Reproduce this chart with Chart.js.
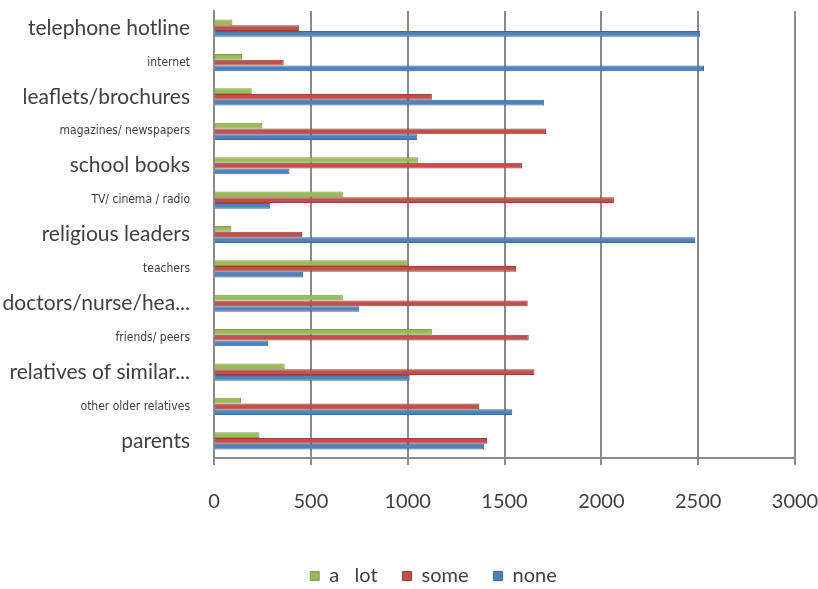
<!DOCTYPE html>
<html>
<head>
<meta charset="utf-8">
<script src="https://cdn.jsdelivr.net/npm/chart.js@4"></script>
<style>
  html, body { margin: 0; padding: 0; background: #ffffff; }
  #wrap { width: 818px; height: 589px; }
</style>
</head>
<body>
<div id="wrap"><canvas id="chart" width="818" height="589"></canvas></div>
<script>
// Sources of information and how much each was used
const categories = [
  'telephone hotline',
  'internet',
  'leaflets/brochures',
  'magazines/ newspapers',
  'school books',
  'TV/ cinema / radio',
  'religious leaders',
  'teachers',
  'doctors/nurse/hea...',
  'friends/ peers',
  'relatives of similar...',
  'other older relatives',
  'parents'
];
const seriesNames = ['a   lot', 'some', 'none'];
const aLot = [95, 145, 195, 250, 1055, 665, 90, 1000, 665, 1125, 365, 140, 235];
const some = [440, 360, 1125, 1715, 1590, 2065, 455, 1560, 1620, 1625, 1655, 1370, 1410];
const none = [2510, 2530, 1705, 1050, 390, 290, 2485, 460, 750, 280, 1010, 1540, 1395];
const xTicks = [0, 500, 1000, 1500, 2000, 2500, 3000];

// Label style: every other category is set in a small condensed face
const smallLabel = [false, true, false, true, false, true, false, true, false, true, false, true, false];

const fills   = ['#9bbb59', '#c0504d', '#4f81bd'];
const borders = ['#7e9a45', '#9e3c39', '#3a6aa3'];
const TEXT = '#404040';
const GRID = '#8a8a8a';
const SANS = 'Lato, "Open Sans", sans-serif';
const NARROW = '"Liberation Sans Narrow", "DejaVu Sans Condensed", sans-serif';

// Places the legend row a little right of centre and lower in its box
const legendPlacement = {
  id: 'legendPlacement',
  afterLayout(chart) {
    const lg = chart.legend;
    if (!lg) return;
    const dx = 36, dy = 7;
    lg.left += dx; lg.right += dx;
    lg.top += dy; lg.bottom += dy;
  }
};

new Chart(document.getElementById('chart'), {
  type: 'bar',
  data: {
    labels: categories,
    datasets: [aLot, some, none].map((values, i) => ({
      label: seriesNames[i],
      data: values,
      backgroundColor: fills[i],
      borderColor: borders[i],
      borderWidth: 1,
      categoryPercentage: 0.5,
      barPercentage: 1.0
    }))
  },
  plugins: [legendPlacement],
  options: {
    indexAxis: 'y',
    responsive: false,
    animation: false,
    layout: { padding: { top: 11, right: 23, left: 0, bottom: 0 } },
    scales: {
      x: {
        min: 0,
        max: 3000,
        afterBuildTicks: (scale) => { scale.ticks = xTicks.map(v => ({ value: v })); },
        afterFit: (scale) => {
          scale.paddingLeft = 0;
          scale.paddingRight = 0;
          scale.height = 76;
        },
        ticks: {
          callback: (v) => String(v),
          color: TEXT,
          padding: 25,
          maxRotation: 0,
          font: { family: SANS, size: 20 }
        },
        grid: { color: GRID, lineWidth: 2, drawTicks: true, tickLength: 7, tickColor: GRID },
        border: { display: true, color: GRID, width: 2 }
      },
      y: {
        afterFit: (scale) => {
          scale.width = 214;
          scale.paddingTop = 0;
          scale.paddingBottom = 0;
        },
        ticks: {
          color: TEXT,
          padding: 24,
          font: (ctx) => smallLabel[ctx.index]
            ? { family: NARROW, size: 12 }
            : { family: SANS, size: 21 }
        },
        grid: { display: false, drawTicks: false },
        border: { display: true, color: GRID, width: 2 }
      }
    },
    plugins: {
      legend: {
        position: 'bottom',
        labels: {
          color: TEXT,
          boxWidth: 9,
          boxHeight: 9,
          padding: 25,
          font: { family: SANS, size: 20 }
        }
      },
      tooltip: { enabled: false }
    }
  }
});
</script>
</body>
</html>
